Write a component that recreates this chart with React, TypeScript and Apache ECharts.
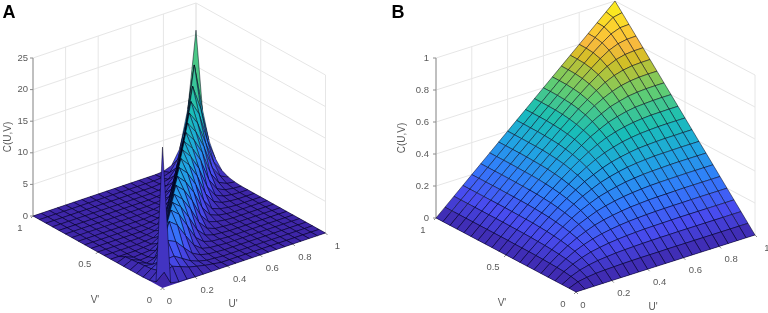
import React, { useEffect, useRef } from "react";
import * as echarts from "echarts";

const CELLS = 20;
const uTicks = [0, 0.2, 0.4, 0.6, 0.8, 1];
const vTicks = [0, 0.5, 1];
const zTicksA = [0, 5, 10, 15, 20, 25];
const zTicksB = [0, 0.2, 0.4, 0.6, 0.8, 1];

// Panel A: heights read along the U'=V' diagonal, and one list per cell of distance from it on each side
const ridgeCentre = [22.3,1.5,2.5,4.5,6.5,7.3,7.5,7.8,8.2,8.6,9.0,9.4,9.8,10.1,10.5,11.0,11.6,12.4,13.8,16.2,20.7];
const ridgeRight1 = [0.4,2.0,2.6,3.9,5.5,6.2,6.4,6.6,7.0,7.3,7.7,8.0,8.3,8.6,8.9,9.2,9.6,10.0,9.8,8.7];
const ridgeRight2 = [0.1,1.5,1.8,2.5,3.4,4.0,4.3,4.6,4.9,5.2,5.5,5.8,6.0,6.3,6.5,6.4,6.0,5.4,4.4];
const ridgeRight3 = [0.1,1.0,1.0,1.2,1.5,1.7,1.9,2.1,2.2,2.4,2.5,2.6,2.7,2.8,2.8,2.7,2.5,2.1];
const ridgeRight4 = [0,0.7,0.5,0.5,0.5,0.6,0.6,0.7,0.7,0.8,0.8,0.9,0.9,0.9,0.9,0.9,0.8];
const ridgeRight5 = [0,0.4,0.2,0.2,0.2,0.2,0.2,0.2,0.3,0.3,0.3,0.3,0.3,0.3,0.3,0.3];
const ridgeRight6 = [0,0.2,0.1,0.1,0.1,0.1,0.1,0.1,0.1,0.1,0.1,0.1,0.1,0.1,0.1];
const ridgeLeft1 = [0.4,1.2,1.6,2.4,3.2,3.6,3.8,4.0,4.2,4.4,4.6,4.8,4.9,5.1,5.3,5.6,5.9,6.4,7.4,8.7];
const ridgeLeft2 = [0.1,0.9,0.6,0.6,0.8,0.9,1.0,1.0,1.1,1.2,1.2,1.3,1.3,1.4,1.5,1.6,1.8,2.2,2.8];
const ridgeLeft3 = [0,0.8,0.2,0.2,0.2,0.2,0.2,0.3,0.3,0.3,0.3,0.3,0.3,0.3,0.4,0.4,0.5,0.6];
const ridgeLeft4 = [0,0.7,0.1,0.1,0.1,0.1,0.1,0.1,0.1,0.1,0.1,0.1,0.1,0.1,0.1,0.1,0.1];
const ridgeLeft5 = [0,0.6,0,0,0,0,0,0,0,0,0,0,0,0,0,0];
const ridgeLeft6 = [0,0.5,0,0,0,0,0,0,0,0,0,0,0,0,0];
const ridgeRight = [ridgeCentre, ridgeRight1, ridgeRight2, ridgeRight3, ridgeRight4, ridgeRight5, ridgeRight6];
const ridgeLeft = [ridgeCentre, ridgeLeft1, ridgeLeft2, ridgeLeft3, ridgeLeft4, ridgeLeft5, ridgeLeft6];

// Panel B: heights for V' row i (1..20), U' column j (1..i); the surface mirrors across the diagonal
const surfaceB = [
  [.023],
  [.033,.055],
  [.040,.069,.092],
  [.043,.079,.109,.132],
  [.045,.085,.120,.150,.174],
  [.047,.090,.129,.164,.195,.219],
  [.048,.093,.135,.174,.210,.241,.266],
  [.049,.095,.140,.182,.221,.257,.289,.315],
  [.049,.097,.143,.188,.230,.269,.305,.339,.365],
  [.049,.098,.146,.192,.237,.279,.318,.356,.389,.418],
  [.050,.099,.147,.195,.241,.286,.329,.370,.408,.442,.471],
  [.050,.099,.148,.197,.245,.291,.336,.381,.421,.460,.496,.525],
  [.050,.100,.149,.198,.247,.295,.342,.388,.432,.475,.514,.551,.581],
  [.050,.100,.150,.199,.248,.297,.345,.393,.440,.485,.528,.569,.608,.638],
  [.050,.100,.150,.199,.249,.298,.347,.397,.444,.492,.538,.583,.624,.663,.696],
  [.050,.100,.150,.200,.250,.299,.349,.398,.447,.496,.544,.592,.638,.681,.721,.755],
  [.050,.100,.150,.200,.250,.300,.350,.399,.449,.499,.548,.596,.645,.692,.737,.780,.815],
  [.050,.100,.150,.200,.250,.300,.350,.400,.449,.500,.549,.599,.649,.698,.746,.794,.838,.876],
  [.050,.100,.150,.200,.250,.300,.350,.400,.450,.500,.550,.600,.650,.700,.749,.799,.848,.897,.938],
  [.050,.100,.150,.200,.250,.300,.350,.400,.450,.500,.550,.600,.650,.700,.750,.800,.850,.900,.950,1],
];

const paletteStops: [number, number[]][] = [
  [0, [62, 38, 168]], [0.127, [72, 77, 240]], [0.254, [50, 124, 252]], [0.381, [32, 165, 226]],
  [0.508, [25, 191, 182]], [0.635, [100, 205, 111]], [0.762, [209, 191, 39]], [0.825, [248, 186, 61]],
  [0.889, [252, 207, 48]], [1, [249, 251, 21]],
];

function palette(t: number) {
  const v = Math.max(0, Math.min(1, t));
  for (let s = 1; s < paletteStops.length; s++) {
    if (v <= paletteStops[s][0]) {
      const [p0, c0] = paletteStops[s - 1];
      const [p1, c1] = paletteStops[s];
      const f = (v - p0) / (p1 - p0);
      return `rgb(${c0.map((c, n) => Math.round(c + (c1[n] - c) * f)).join(",")})`;
    }
  }
  return "rgb(249,251,21)";
}

const heightA = (j: number, i: number) => {
  const d = Math.abs(i - j);
  const side = j >= i ? ridgeRight : ridgeLeft;
  return d < side.length ? side[d][Math.min(i, j)] : 0;
};
const heightB = (j: number, i: number) => {
  if (i === 0 || j === 0) return 0;
  return j <= i ? surfaceB[i - 1][j - 1] : surfaceB[j - 1][i - 1];
};

const FONT = "Liberation Sans";
const TICK = "#5a5a5a";

const panels = [
  {
    name: "A", o: [162.5, 288], u: [163, -55], v: [-129.5, -72], zPx: 158, zMax: 25, cMax: 21,
    height: heightA, zTicks: zTicksA, line: "rgba(0,0,20,0.62)", lw: 0.8,
    titlePos: [9, 12], zLabelX: 28, cPos: [7, 137], vName: [95, 299], uName: [233, 303],
  },
  {
    name: "B", o: [576, 292], u: [179, -57], v: [-140, -74], zPx: 160, zMax: 1, cMax: 1,
    height: heightB, zTicks: zTicksB, line: "rgba(0,0,20,0.62)", lw: 0.8,
    titlePos: [398, 12], zLabelX: 429, cPos: [401, 138], vName: [502, 302], uName: [653, 306],
  },
];

type Panel = typeof panels[number];
const project = (p: Panel, u: number, v: number, z: number) => [
  p.o[0] + p.u[0] * u + p.v[0] * v,
  p.o[1] + p.u[1] * u + p.v[1] * v - (z / p.zMax) * p.zPx,
];

function label(x: number, y: number, text: string, fontSize = 9.5, extra: any = {}) {
  return {
    type: "text", x, y, rotation: extra.rotation || 0, silent: true,
    style: {
      text, fontSize, fontFamily: FONT, fontWeight: extra.fontWeight || "normal",
      fill: extra.fill || TICK, align: extra.align || "center", verticalAlign: "middle",
    },
  };
}

function frame(p: Panel, api: any) {
  const at = (u: number, v: number, z: number) => api.coord(project(p, u, v, z));
  const seg = (a: number[], b: number[], stroke = "#e6e6e6", lineWidth = 1) => ({
    type: "line", silent: true,
    shape: { x1: a[0], y1: a[1], x2: b[0], y2: b[1] },
    style: { stroke, lineWidth },
  });
  const kids: any[] = [];
  uTicks.forEach((u) => kids.push(seg(at(u, 1, 0), at(u, 1, p.zMax))));
  vTicks.forEach((v) => kids.push(seg(at(1, v, 0), at(1, v, p.zMax))));
  p.zTicks.forEach((z) => {
    kids.push(seg(at(0, 1, z), at(1, 1, z)));
    kids.push(seg(at(1, 1, z), at(1, 0, z)));
  });
  kids.push({
    type: "polygon", silent: true,
    shape: { points: [at(0, 0, 0), at(1, 0, 0), at(1, 1, 0), at(0, 1, 0)] },
    style: { fill: palette(0) },
  });
  kids.push(seg(at(0, 1, 0), at(0, 1, p.zMax), "#8c8c8c", 1));
  p.zTicks.forEach((z) => {
    const a = at(0, 1, z);
    kids.push(seg(a, [a[0] - 3, a[1]], "#8c8c8c", 1));
    kids.push(label(p.zLabelX, a[1] - 1, String(z), 9.5, { align: "right" }));
  });
  uTicks.forEach((u) => {
    const a = at(u, 0, 0);
    kids.push(seg(a, [a[0] + 2, a[1] + 2], "#8c8c8c", 1));
    kids.push(label(a[0] + (u === 0 ? 7 : 12), a[1] + 12, String(u)));
  });
  vTicks.forEach((v) => {
    const a = at(0, v, 0);
    kids.push(seg(a, [a[0] - 2, a[1] + 2], "#8c8c8c", 1));
    kids.push(label(a[0] - 13, a[1] + 11, String(v)));
  });
  kids.push(label(p.vName[0], p.vName[1], "V'", 10));
  kids.push(label(p.uName[0], p.uName[1], "U'", 10));
  kids.push(label(p.cPos[0], p.cPos[1], "C(U,V)", 10, { rotation: Math.PI / 2 }));
  kids.push(label(p.titlePos[0], p.titlePos[1], p.name, 18, { fontWeight: "bold", fill: "#000" }));
  return { type: "group", children: kids };
}

function cellsFor() {
  const cells: number[][] = [];
  for (let s = 2 * (CELLS - 1); s >= 0; s--) {
    for (let j = Math.min(s, CELLS - 1); j >= 0 && s - j < CELLS; j--) cells.push([j, s - j]);
  }
  return cells;
}

function surfaceSeries(p: Panel) {
  return {
    type: "custom", coordinateSystem: "cartesian2d", clip: false, silent: true,
    data: cellsFor(),
    encode: { x: 0, y: 1 },
    renderItem: (_params: any, api: any) => {
      const j = api.value(0);
      const i = api.value(1);
      const corners = [[j, i], [j + 1, i], [j + 1, i + 1], [j, i + 1]];
      const zs = corners.map(([a, b]) => p.height(a, b));
      const pts = corners.map(([a, b], n) => api.coord(project(p, a / CELLS, b / CELLS, zs[n])));
      const sorted = [...zs].sort((a, b) => a - b);
      const middle = (sorted[1] + sorted[2]) / 2;
      return {
        type: "polygon", silent: true,
        shape: { points: pts },
        style: { fill: palette(middle / p.cMax), stroke: p.line, lineWidth: p.lw },
      };
    },
  };
}

function frameSeries(p: Panel) {
  return {
    type: "custom", coordinateSystem: "cartesian2d", clip: false, silent: true,
    data: [[0, 0]],
    renderItem: (_params: any, api: any) => frame(p, api),
  };
}

export default function App() {
  const ref = useRef<HTMLDivElement>(null);
  useEffect(() => {
    const chart = echarts.init(ref.current!, undefined, { renderer: "svg" });
    chart.setOption({
      animation: false,
      backgroundColor: "#fff",
      tooltip: { show: false },
      grid: { left: 0, right: 0, top: 0, bottom: 0, containLabel: false },
      xAxis: { type: "value", min: 0, max: 768, show: false },
      yAxis: { type: "value", min: 0, max: 313, inverse: true, show: false },
      series: [
        frameSeries(panels[0]), surfaceSeries(panels[0]),
        frameSeries(panels[1]), surfaceSeries(panels[1]),
      ],
    });
    return () => chart.dispose();
  }, []);
  return <div ref={ref} style={{ position: "absolute", left: 0, top: 0, width: 768, height: 313, filter: "blur(0.45px)" }} />;
}
